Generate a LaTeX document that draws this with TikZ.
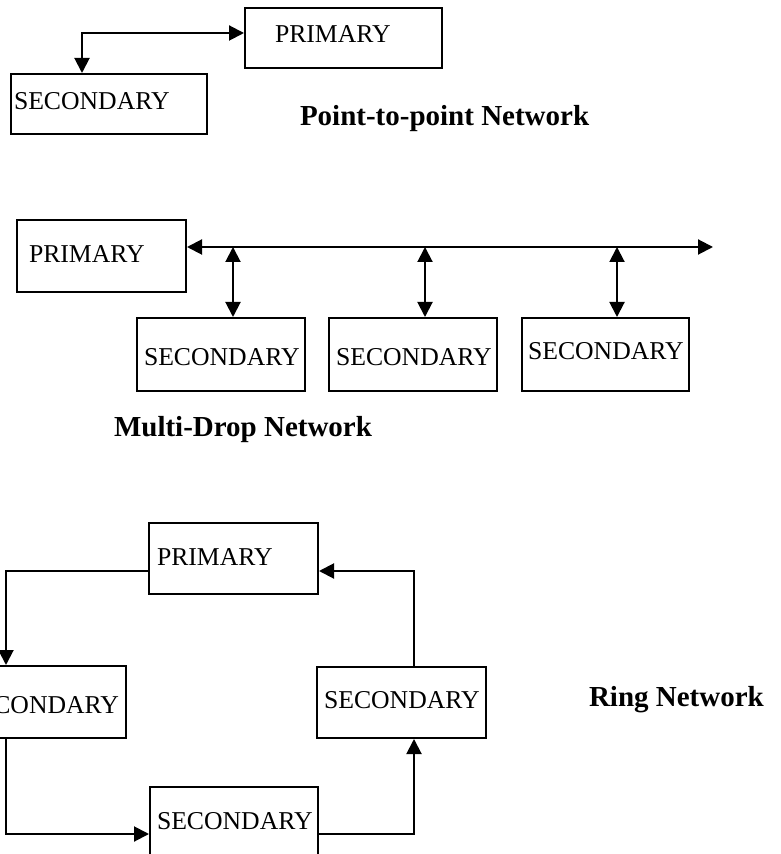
\documentclass[tikz,border=0pt]{standalone}
\usepackage{fontspec}
\setmainfont{Liberation Serif}
\usetikzlibrary{arrows.meta}
\begin{document}
\begin{tikzpicture}[x=0.5pt, y=-0.5pt, line width=1pt,
  box/.style 2 args={draw, inner sep=0pt, minimum width=#1*0.5pt, minimum height=#2*0.5pt},
  txt/.style={anchor=base west, inner sep=0pt, font=\fontsize{12.85}{15}\selectfont},
  ttl/.style={anchor=base west, inner sep=0pt, font=\fontsize{14.5}{17}\selectfont\bfseries},
  >={Triangle[length=7.5pt,width=7.5pt]}]
\clip (0,0) rectangle (780,854);
% point-to-point
\node[box={197}{60}] (pp0) at (343.5,38){};
\node[txt] (pp0t) at (274,43){PRIMARY};
\node[box={196}{60}] (pp1) at (109,104){};
\node[txt] (pp1t) at (13,110){SECONDARY};
\coordinate (pp2) at (82,33);
\draw[<->](pp0.west |- pp2) -| (pp1.north -| pp2);
\node[ttl] (pp3) at (299,126){Point-to-point Network};
% multi-drop
\node[box={169}{72}] (md0) at (101.5,256){};
\node[txt] (md0t) at (28,263){PRIMARY};
\node[box={168}{73}] (md1) at (221,354.5){};
\node[txt] (md1t) at (143,366){SECONDARY};
\node[box={168}{73}] (md2) at (413,354.5){};
\node[txt] (md2t) at (335,366){SECONDARY};
\node[box={167}{73}] (md3) at (605.5,354.5){};
\node[txt] (md3t) at (527,360){SECONDARY};
\coordinate (md4) at (713,247);
\coordinate (md5) at (233,247);
\coordinate (md6) at (425,247);
\coordinate (md7) at (617,247);
\draw[<->](md0.east |- md4) -- (md4);
\draw[<->](md5) -- (md1.north -| md5);
\draw[<->](md6) -- (md2.north -| md6);
\draw[<->](md7) -- (md3.north -| md7);
\node[ttl] (md8) at (113,437){Multi-Drop Network};
% ring
\node[box={169}{71}] (rg0) at (233.5,558.5){};
\node[txt] (rg0t) at (156,565){PRIMARY};
\node[box={168}{72}] (rg1) at (42,702){};
\node[txt, anchor=base east] (rg1t) at (120,713){SECONDARY};
\node[box={169}{71}] (rg2) at (401.5,702.5){};
\node[txt] (rg2t) at (323,708){SECONDARY};
\node[box={168}{73}] (rg3) at (234,823.5){};
\node[txt] (rg3t) at (156,829){SECONDARY};
\coordinate (rg4) at (6,571);
\coordinate (rg5) at (6,834);
\coordinate (rg6) at (414,834);
\coordinate (rg7) at (414,571);
\draw[->](rg0.west |- rg4) -| (rg1.north -| rg4);
\draw[->](rg1.south -| rg5) |- (rg3.west |- rg5);
\draw[->](rg3.east |- rg6) -| (rg2.south -| rg6);
\draw[->](rg2.north -| rg7) |- (rg0.east |- rg7);
\node[ttl] (rg8) at (588,706){Ring Network};
\end{tikzpicture}
\end{document}
